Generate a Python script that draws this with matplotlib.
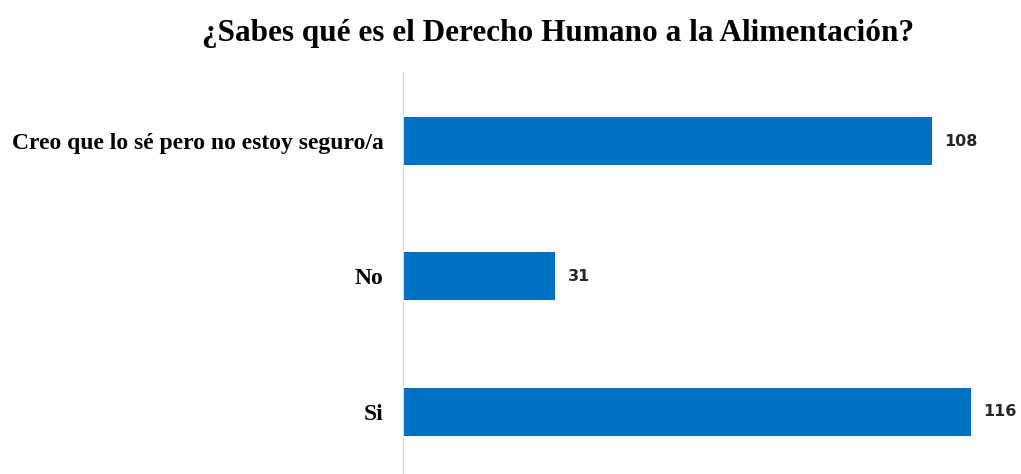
import matplotlib.pyplot as plt
import numpy as np

categorias = ['Si', 'No', 'Creo que lo sé pero no estoy seguro/a']
valores = [116, 31, 108]

fig = plt.figure(figsize=(10.21, 4.74), dpi=100)
ax = fig.add_axes([403/1021, 0, 612/1021, 402/474])

y = np.arange(len(categorias))
ax.barh(y, valores, height=0.355, color='#0070C0')

ax.set_xlim(0, 125)
ax.set_ylim(-0.46, 2.51)
ax.set_yticks(y)
ax.set_yticklabels(categorias, family='Liberation Serif', fontweight='bold', fontsize=17)
ax.tick_params(axis='y', length=0, pad=14)
ax.set_xticks([])
for s in ['top', 'right', 'bottom']:
    ax.spines[s].set_visible(False)
ax.spines['left'].set_color('#D9D9D9')

for yi, v in zip(y, valores):
    ax.text(v + 2.6, yi, str(v), va='center', ha='left',
            family='DejaVu Sans', fontweight='bold', fontsize=11.5, color='#262626')

fig.text(558/1021, 1 - 34/474, '¿Sabes qué es el Derecho Humano a la Alimentación?',
         ha='center', va='center', family='Liberation Serif', fontweight='bold', fontsize=22.5)

fig.savefig('out.png', dpi=100)
